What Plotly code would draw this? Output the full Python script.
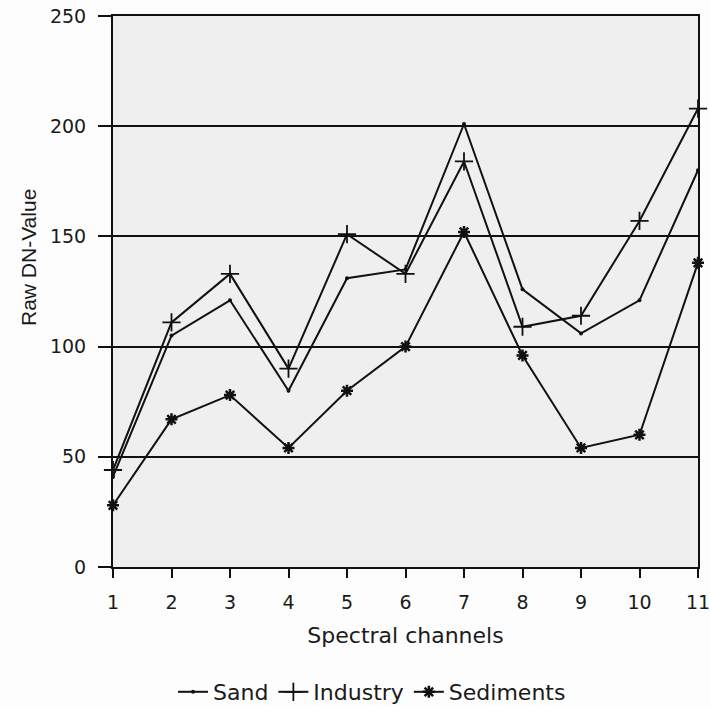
import plotly.graph_objects as go

channels = [1, 2, 3, 4, 5, 6, 7, 8, 9, 10, 11]
sand = [41, 105, 121, 80, 131, 135, 201, 126, 106, 121, 180]
industry = [44, 111, 133, 90, 151, 133, 184, 109, 114, 157, 208]
sediments = [28, 67, 78, 54, 80, 100, 152, 96, 54, 60, 138]
y_ticks = [0, 50, 100, 150, 200, 250]

L, R, T, B = 113, 12, 16, 140
W, H = 710, 707
pw, ph = W - L - R, H - T - B

fig = go.Figure()
fig.add_trace(go.Scatter(x=channels, y=sand, name="Sand", mode="lines+markers",
                         line=dict(color="#111", width=2),
                         marker=dict(symbol="circle", size=4, color="#111"),
                         cliponaxis=False))
fig.add_trace(go.Scatter(x=channels, y=industry, name="Industry", mode="lines+markers",
                         line=dict(color="#111", width=2),
                         marker=dict(symbol="cross-thin", size=13, color="#111",
                                     line=dict(color="#111", width=1.8)),
                         cliponaxis=False))
fig.add_trace(go.Scatter(x=channels, y=sediments, name="Sediments", mode="lines+markers",
                         line=dict(color="#111", width=2),
                         marker=dict(symbol="asterisk", size=10, color="#111",
                                     line=dict(color="#111", width=2.5)),
                         cliponaxis=False))

font = "DejaVu Sans, Verdana, sans-serif"
fig.update_layout(
    width=W, height=H,
    margin=dict(l=L, r=R, t=T, b=B, autoexpand=False),
    paper_bgcolor="#fdfdfd",
    plot_bgcolor="#efefef",
    font=dict(family=font, size=19, color="#1a1a1a"),
    showlegend=True,
    legend=dict(orientation="h", x=(372 - L) / pw, xanchor="center",
                y=(567 - 692) / ph, yanchor="middle",
                font=dict(size=22), itemwidth=30, bgcolor="rgba(0,0,0,0)",
                tracegroupgap=0),
    xaxis=dict(range=[1, 11], tickvals=channels, ticktext=[str(c) for c in channels],
               automargin=False, ticklabeloverflow="allow",
               showgrid=False, zeroline=False, showline=True, linecolor="#111",
               linewidth=2, mirror=True, ticks="outside", ticklen=9, tickwidth=2,
               tickcolor="#111", ticklabelstandoff=8,
               tickfont=dict(size=19),
               title=dict(text="Spectral channels", font=dict(size=22), standoff=16)),
    yaxis=dict(range=[0, 250], tickvals=y_ticks, showgrid=True, gridcolor="#111",
               automargin=False,
               gridwidth=2, zeroline=False, showline=True, linecolor="#111",
               linewidth=2, mirror=True, ticks="outside", ticklen=13, tickwidth=2,
               tickcolor="#111", ticklabelstandoff=8, tickfont=dict(size=19)),
    annotations=[dict(text="Raw DN-Value", textangle=-90, showarrow=False,
                      xref="paper", yref="paper",
                      x=(28 - L) / pw, y=(567 - 258) / ph,
                      xanchor="center", yanchor="middle",
                      font=dict(family="Liberation Sans Narrow, Arial Narrow, sans-serif",
                                size=21, color="#1a1a1a"))],
)

fig.write_html("out.html", config={"displayModeBar": False},
               post_script="document.body.style.margin='0';document.body.style.overflow='hidden';")
